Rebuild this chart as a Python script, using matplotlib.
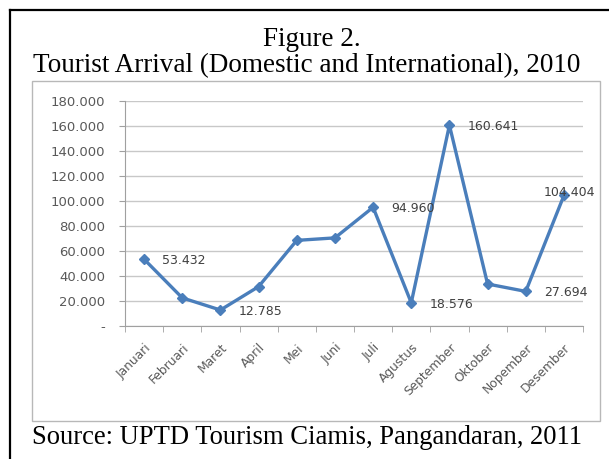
import numpy as np
import matplotlib
matplotlib.use("Agg")
import matplotlib.pyplot as plt
from matplotlib.patches import Rectangle
from matplotlib.lines import Line2D

months = ["Januari", "Februari", "Maret", "April", "Mei", "Juni", "Juli",
          "Agustus", "September", "Oktober", "Nopember", "Desember"]
arrivals = [53432, 22500, 12785, 31500, 68500, 70500, 94960,
            18576, 160641, 33600, 27694, 104404]
shown_labels = {0: "53.432", 2: "12.785", 6: "94.960", 7: "18.576",
                8: "160.641", 10: "27.694", 11: "104.404"}
yticks = [0, 20000, 40000, 60000, 80000, 100000, 120000, 140000, 160000, 180000]
ytick_labels = ["-", "20.000", "40.000", "60.000", "80.000", "100.000",
                "120.000", "140.000", "160.000", "180.000"]

W, H = 609, 459
fig = plt.figure(figsize=(W / 100, H / 100), dpi=100)
fig.patch.set_facecolor("white")

def fx(px):
    return px / W

def fy(py):
    return 1 - py / H

# outer black frame (top and left visible)
fig.add_artist(Line2D([fx(10), fx(609)], [fy(10), fy(10)], color="black", lw=1.6))
fig.add_artist(Line2D([fx(10), fx(10)], [fy(10), fy(459)], color="black", lw=1.6))

# chart area frame, behind the axes
frame = Rectangle((fx(32), fy(421)), fx(600) - fx(32), fy(81) - fy(421),
                  facecolor="white", edgecolor="#b8b8b8", lw=1.0, zorder=-5)
fig.add_artist(frame)

serif = ["Liberation Serif", "DejaVu Serif"]
fig.text(fx(312), fy(46), "Figure 2.", ha="center", va="baseline", fontsize=19.5, family=serif)
fig.text(fx(307), fy(72), "Tourist Arrival (Domestic and International), 2010",
         ha="center", va="baseline", fontsize=19.5, family=serif)
fig.text(fx(32), fy(444), "Source: UPTD Tourism Ciamis, Pangandaran, 2011",
         ha="left", va="baseline", fontsize=19.2, family=serif)

ax = fig.add_axes([fx(125), fy(326), fx(583) - fx(125), fy(101) - fy(326)])
ax.set_facecolor("none")
x = np.arange(len(months))
blue = "#4a7ebb"
ax.plot(x, arrivals, color=blue, lw=2.4, marker="D", markersize=5.5,
        markerfacecolor=blue, markeredgecolor=blue, zorder=3)

for i, txt in shown_labels.items():
    if i == 11:
        ax.annotate(txt, (x[i], arrivals[i]), xytext=(4, 2), textcoords="offset points",
                    ha="center", va="center", fontsize=9, color="#404040")
    else:
        ax.annotate(txt, (x[i], arrivals[i]), xytext=(13, -1), textcoords="offset points",
                    ha="left", va="center", fontsize=9, color="#404040")

ax.set_xlim(-0.5, 11.5)
ax.set_ylim(0, 180000)
ax.set_yticks(yticks)
ax.set_yticklabels(ytick_labels, fontsize=9.5, color="#595959")
ax.set_xticks(x)
ax.set_xticklabels(months, rotation=45, ha="right", rotation_mode="anchor",
                   fontsize=8.8, color="#595959")
ax.set_xticks(np.arange(-0.5, 12, 1), minor=True)
ax.tick_params(axis="x", which="major", length=0, pad=11)
ax.tick_params(axis="x", which="minor", length=4, color="#a0a0a0", direction="out")
ax.tick_params(axis="y", length=4, color="#a0a0a0", pad=10)
ax.yaxis.grid(True, color="#c8c8c8", lw=1)
ax.set_axisbelow(True)
for s in ["top", "right"]:
    ax.spines[s].set_visible(False)
ax.spines["left"].set_color("#a0a0a0")
ax.spines["bottom"].set_color("#a0a0a0")

plt.savefig("out.png", dpi=100)
